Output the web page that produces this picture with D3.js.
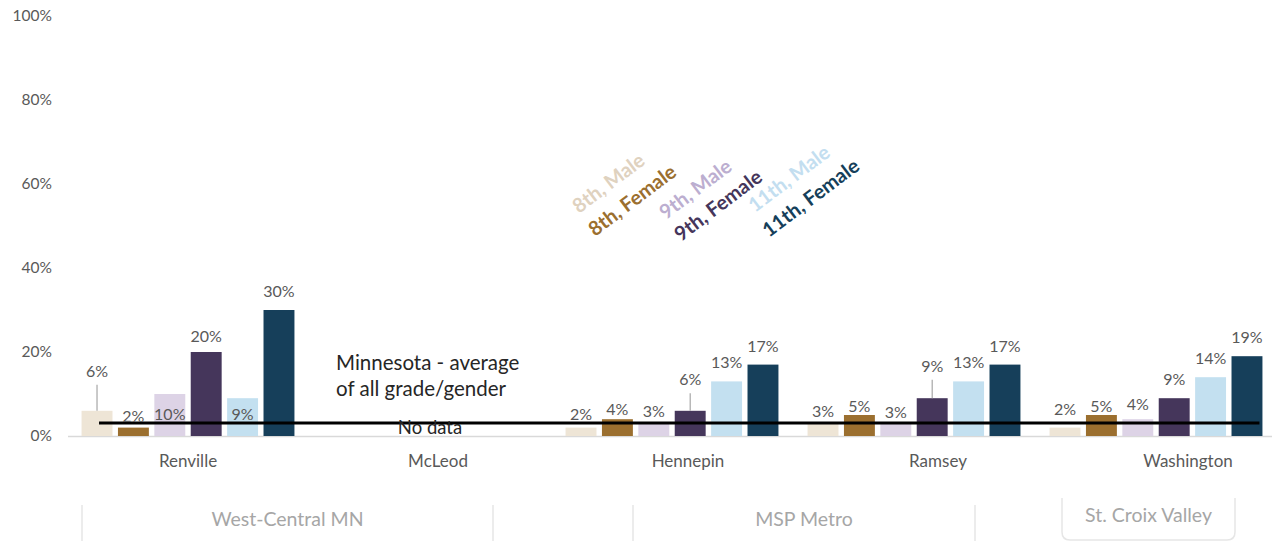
<!DOCTYPE html>
<html><head><meta charset="utf-8">
<script src="https://cdn.jsdelivr.net/npm/d3@7"></script>
<style>
body{margin:0;background:#fff;}
svg{display:block;font-family:Lato,"Open Sans",sans-serif;}
</style></head>
<body>
<svg id="chart" width="1277" height="541"></svg>
<script>
// ---- data ----
const counties = ["Renville","McLeod","Hennepin","Ramsey","Washington"];
const seriesNames = ["8th, Male","8th, Female","9th, Male","9th, Female","11th, Male","11th, Female"];
const renville   = [6, 2, 10, 20, 9, 30];
const mcleod     = [null, null, null, null, null, null];
const hennepin   = [2, 4, 3, 6, 13, 17];
const ramsey     = [3, 5, 3, 9, 13, 17];
const washington = [2, 5, 4, 9, 14, 19];
const stateAverage = 3.1;
const yTicks = [0, 20, 40, 60, 80, 100];
const regions = [
  {name:"West-Central MN", from:"Renville", to:"McLeod"},
  {name:"MSP Metro", from:"Hennepin", to:"Ramsey"},
  {name:"St. Croix Valley", from:"Washington", to:"Washington"}
];
const values = [renville, mcleod, hennepin, ramsey, washington];

// ---- layout (label placement in data units) ----
const labelLevel = [
  [14.1, 3.4, 3.8, 22.5, 3.8, 33.2],
  [null,null,null,null,null,null],
  [3.8, 5.0, 4.6, 12.1, 16.1, 20.1],
  [4.6, 5.8, 4.2, 15.3, 16.1, 20.1],
  [5.0, 5.8, 6.2, 12.1, 17.1, 22.1]
];
const leader = [[true,false,false,false,false,false],[],[false,false,false,true,false,false],[false,false,false,true,false,false],[]];

const barColors = ["#eee5d6","#9b6f2f","#ddd3e6","#45365b","#c3e0f0","#163f5a"];
const legendColors = ["#dfd2bf","#9b6f2f","#bcaed0","#45365b","#c3def0","#163f5a"];

const svg = d3.select("#chart");
const y = d3.scaleLinear().domain([0,100]).range([436,16]);
const x0 = d3.scaleBand().domain(counties).range([67,1277]);
const xLab = d3.scaleBand().domain(counties).range([63,1313]);
const x1 = d3.scaleBand().domain(seriesNames).range([0, x0.bandwidth()]).paddingInner(0.15).paddingOuter(0.4);

// y axis labels
const yAxis = d3.axisLeft(y).tickValues(yTicks).tickFormat(d=>d+"%").tickSize(0).tickPadding(0);
const yg = svg.append("g").attr("transform","translate(52,0)").call(yAxis);
yg.select(".domain").remove();
yg.selectAll("text").attr("fill","#595959").style("font-size","15.5px").style("font-family","Lato,sans-serif");

// baseline
svg.append("line").attr("x1",68).attr("x2",1272).attr("y1",y(0)+0.5).attr("y2",y(0)+0.5)
  .attr("stroke","#d9d9d9").attr("stroke-width",1.5);

// bars
counties.forEach((c,ci)=>{
  const g = svg.append("g").attr("transform",`translate(${x0(c)},0)`);
  values[ci].forEach((v,si)=>{
    if(v==null) return;
    g.append("rect").attr("x",x1(seriesNames[si])).attr("width",x1.bandwidth())
      .attr("y",y(v)).attr("height",y(0)-y(v)).attr("fill",barColors[si]);
  });
});

// average line
const avgX1 = x0("Renville") + x1(seriesNames[0]) + x1.bandwidth()/2 + 2;
const avgX2 = x0("Washington") + x1(seriesNames[5]) + x1.bandwidth() - 3;
svg.append("line").attr("x1",avgX1).attr("x2",avgX2).attr("y1",y(stateAverage)).attr("y2",y(stateAverage))
  .attr("stroke","#000").attr("stroke-width",3);

// data labels
counties.forEach((c,ci)=>{
  values[ci].forEach((v,si)=>{
    if(v==null) return;
    const cx = x0(c) + x1(seriesNames[si]) + x1.bandwidth()/2;
    const ly = y(labelLevel[ci][si]);
    if(leader[ci] && leader[ci][si]){
      svg.append("line").attr("x1",cx).attr("x2",cx).attr("y1",ly+8).attr("y2",y(v))
        .attr("stroke","#a6a6a6").attr("stroke-width",1.2);
    }
    svg.append("text").attr("x",cx).attr("y",ly).attr("text-anchor","middle")
      .attr("fill","#595959").style("font-size","16px").text(v+"%");
  });
});

// no data
svg.append("text").attr("x",x0("McLeod")+x0.bandwidth()/2).attr("y",y(stateAverage)+11)
  .attr("text-anchor","middle").attr("fill","#262626").style("font-size","18.5px").text("No data");

// average annotation
const ann = svg.append("text").attr("x",336).attr("y",370).attr("fill","#262626").style("font-size","20.5px");
ann.append("tspan").attr("x",336).attr("dy",0).text("Minnesota - average");
ann.append("tspan").attr("x",336).attr("dy",26).text("of all grade/gender");

// category axis
const xAxis = d3.axisBottom(xLab).tickSize(0).tickPadding(0);
const xg = svg.append("g").attr("transform","translate(0,455)").call(xAxis);
xg.select(".domain").remove();
xg.selectAll("text").attr("fill","#595959").style("font-size","17px").style("font-family","Lato,sans-serif");

// region boxes
const boxInset = {"West-Central MN":[19,70],"MSP Metro":[70,88],"St. Croix Valley":[-1,78]};
regions.forEach(r=>{
  const left = xLab(r.from) + boxInset[r.name][0];
  const right = xLab(r.to) + xLab.bandwidth() - boxInset[r.name][1];
  const isSC = r.name==="St. Croix Valley";
  const top = isSC ? 498 : 505;
  const bottom = isSC ? 540 : 560;
  const rr = 8;
  const p = d3.path();
  p.moveTo(left, top);
  p.lineTo(left, bottom-rr);
  p.quadraticCurveTo(left, bottom, left+rr, bottom);
  p.lineTo(right-rr, bottom);
  p.quadraticCurveTo(right, bottom, right, bottom-rr);
  p.lineTo(right, top);
  svg.append("path").attr("d",p.toString()).attr("fill","none").attr("stroke","#e6e6e6").attr("stroke-width",1.5);
  svg.append("text").attr("x",(left+right)/2).attr("y", isSC?522:526).attr("text-anchor","middle")
    .attr("fill","#a6a6a6").style("font-size","19.5px").text(r.name);
});

// legend (rotated labels)
const legendPos = [[579,214],[595,237],[666,220],[681,242],[755,213],[769,238]];
seriesNames.forEach((s,i)=>{
  svg.append("text").attr("transform",`translate(${legendPos[i][0]},${legendPos[i][1]}) rotate(-37)`)
    .attr("fill",legendColors[i]).style("font-size","20px").style("font-weight","bold").text(s);
});
</script>
</body></html>
